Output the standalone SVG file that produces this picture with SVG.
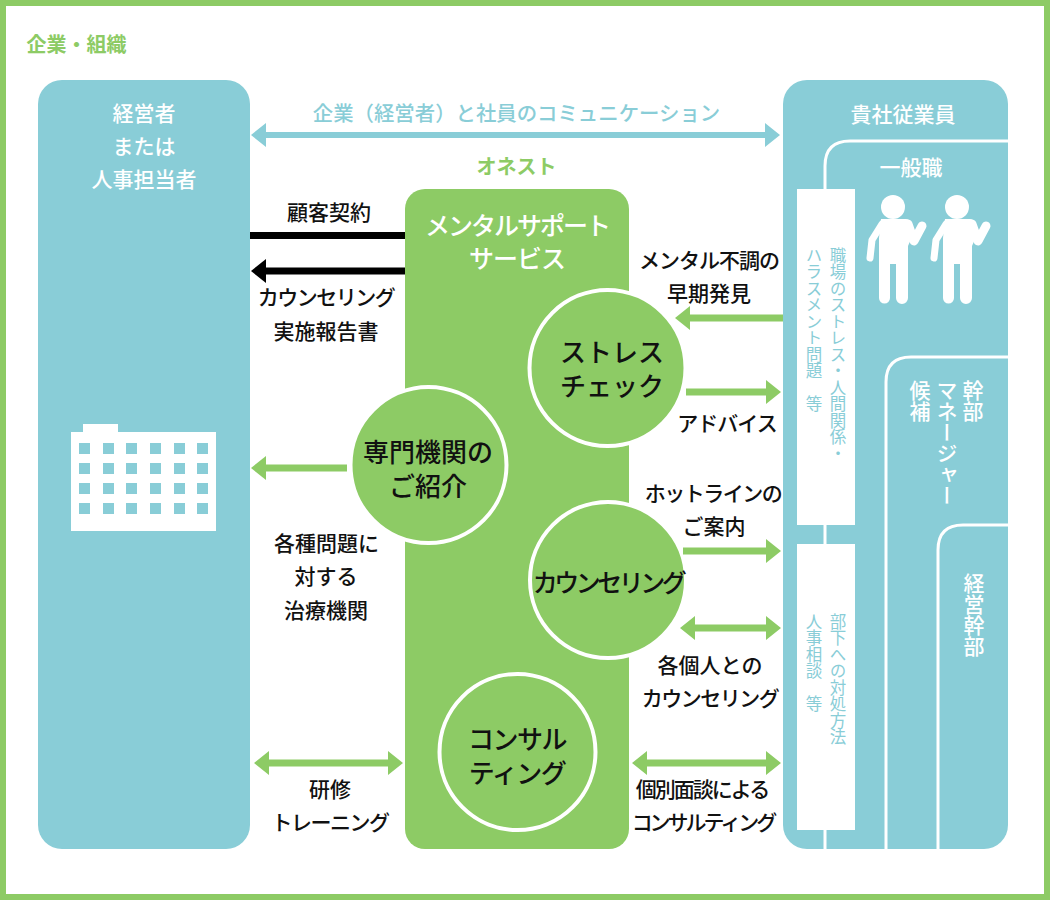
<svg xmlns="http://www.w3.org/2000/svg" xmlns:xlink="http://www.w3.org/1999/xlink" width="1050" height="900" viewBox="0 0 1050 900">
<style>
text{font-family:"Noto Sans CJK JP","Noto Sans",sans-serif;font-weight:500;text-anchor:middle}
.k{font-size:21px;fill:#111}
.w{font-size:21px;fill:#fff}
.c{font-size:26px;fill:#111;font-weight:500}
.sv{font-size:25px;fill:#fff}
.g{fill:#8dcb65}
.t{fill:#89cdd7}
.ga{stroke:#8dcb65;stroke-width:7;fill:none}
.v{writing-mode:vertical-rl;text-anchor:start;font-size:16.500px;fill:#89cdd7;font-weight:400}
.vw{writing-mode:vertical-rl;text-anchor:start;font-size:21px;fill:#fff;font-weight:500}
.wl{stroke:#fff;stroke-width:3;fill:none}
.circ{fill:#8dcb65;stroke:#fff;stroke-width:4}
.n1{letter-spacing:-1px}
.n15{letter-spacing:-1.500px}
.n2{letter-spacing:-2px}
.n3{letter-spacing:-3px}
</style>
<defs>
<g id="person" fill="#fff">
<circle cx="893" cy="207" r="12"/>
<path d="M881 219H906Q909 219 910 222L914 232L908 246V264V298A5.500 5.500 0 0 1 896 298V264H890V298A5.500 5.500 0 0 1 879 298V264L879 238Z"/>
<path d="M882 224L872 240L870 258" fill="none" stroke="#fff" stroke-width="7" stroke-linecap="round" stroke-linejoin="round"/>
<path d="M908 224L914 241L922 226" fill="none" stroke="#fff" stroke-width="9" stroke-linecap="round" stroke-linejoin="round"/>
</g>
</defs>
<rect x="3" y="3" width="1044" height="894" fill="#fff" stroke="#8dcb65" stroke-width="6"/>
<text x="76.500" y="52" font-size="20" class="g" style="font-weight:700">企業・組織</text>

<g id="client">
<rect x="38" y="80" width="212" height="769" rx="24" class="t"/>
<text x="144" y="121" class="w">経営者</text>
<text x="144" y="154" class="w">または</text>
<text x="144" y="187" class="w">人事担当者</text>
<g id="building">
<path d="M71 432H83V424H118V432H216V531H71Z" fill="#fff"/>
<g class="t">
<rect x="79" y="443" width="11" height="11"/><rect x="103" y="443" width="11" height="11"/><rect x="126" y="443" width="11" height="11"/><rect x="150" y="443" width="11" height="11"/><rect x="174" y="443" width="11" height="11"/><rect x="197" y="443" width="11" height="11"/>
<rect x="79" y="463" width="11" height="11"/><rect x="103" y="463" width="11" height="11"/><rect x="126" y="463" width="11" height="11"/><rect x="150" y="463" width="11" height="11"/><rect x="174" y="463" width="11" height="11"/><rect x="197" y="463" width="11" height="11"/>
<rect x="79" y="483" width="11" height="11"/><rect x="103" y="483" width="11" height="11"/><rect x="126" y="483" width="11" height="11"/><rect x="150" y="483" width="11" height="11"/><rect x="174" y="483" width="11" height="11"/><rect x="197" y="483" width="11" height="11"/>
<rect x="79" y="503" width="11" height="11"/><rect x="103" y="503" width="11" height="11"/><rect x="126" y="503" width="11" height="11"/><rect x="150" y="503" width="11" height="11"/><rect x="174" y="503" width="11" height="11"/><rect x="197" y="503" width="11" height="11"/>
</g>
</g>
</g>

<g id="employees">
<rect x="783" y="80" width="225" height="769" rx="24" class="t"/>
<text x="903" y="122" class="w">貴社従業員</text>
<path class="wl" d="M825 849V166Q825 141 850 141H1008"/>
<path class="wl" d="M886 849V382Q886 357 911 357H1008"/>
<path class="wl" d="M938 849V550Q938 525 963 525H1008"/>
<text x="911" y="175" class="w">一般職</text>
<use xlink:href="#person" href="#person"/>
<use xlink:href="#person" href="#person" x="64"/>
<rect x="797" y="189" width="58" height="336" fill="#fff"/>
<rect x="797" y="544" width="58" height="286" fill="#fff"/>
<text class="v" x="838" y="247">職場のストレス・人間関係・</text>
<text class="v" x="814" y="247">ハラスメント問題　等</text>
<text class="v" x="838" y="613">部下への対処方法</text>
<text class="v" x="814" y="613">人事相談　等</text>
<text class="vw" x="973" y="380">幹部</text>
<text class="vw" x="947" y="380">マネージャー</text>
<text class="vw" x="920" y="380">候補</text>
<text class="vw" x="974" y="573">経営幹部</text>
</g>

<g id="service">
<rect x="405" y="189" width="224" height="660" rx="20" class="g"/>
<text x="517" y="235" class="sv n2">メンタルサポート</text>
<text x="517" y="268" class="sv n1">サービス</text>
</g>
<g id="stress"><circle cx="607.500" cy="368" r="78" class="circ"/><text x="612" y="362" class="c">ストレス</text><text x="612" y="396" class="c">チェック</text></g>
<g id="referral"><circle cx="428.500" cy="465" r="78" class="circ"/><text x="428" y="462" class="c">専門機関の</text><text x="428" y="496" class="c">ご紹介</text></g>
<g id="counseling"><circle cx="608" cy="580" r="78" class="circ"/><text x="608" y="592" class="c" style="font-size:25px;letter-spacing:-3.500px">カウンセリング</text></g>
<g id="consulting"><circle cx="517.500" cy="752" r="78" class="circ"/><text x="517" y="749" class="c n15">コンサル</text><text x="517" y="783" class="c n15">ティング</text></g>

<g id="connectors">
<path d="M262 135H768" stroke="#89cdd7" stroke-width="6"/>
<path d="M251 135L266 123V147ZM780 135L765 123V147Z" class="t"/>
<rect x="250" y="232" width="155" height="7" fill="#000"/>
<path d="M262 271H405" stroke="#000" stroke-width="7"/>
<path d="M251 271L266 259V283Z" fill="#000"/>
<path class="ga" d="M688 318H783M686 392H768M262 468H347M683 551H768M692 628H769M644 763H769M266 763H391"/>
<g class="g">
<path d="M675 318L690 306V330Z"/>
<path d="M781 392L766 380V404Z"/>
<path d="M251 468L266 456V480Z"/>
<path d="M781 551L766 539V563Z"/>
<path d="M680 628L695 616V640ZM781 628L766 616V640Z"/>
<path d="M632 763L647 751V775ZM781 763L766 751V775Z"/>
<path d="M254 763L269 751V775ZM403 763L388 751V775Z"/>
</g>
</g>

<g id="labels">
<text x="516.500" y="121" font-size="20.400" class="t">企業（経営者）と社員のコミュニケーション</text>
<text x="516.500" y="174" font-size="20" class="g" style="font-weight:700">オネスト</text>
<text x="329" y="220" class="k">顧客契約</text>
<text x="326" y="305" class="k n15">カウンセリング</text>
<text x="326" y="339" class="k">実施報告書</text>
<text x="709" y="268" class="k n1">メンタル不調の</text>
<text x="709" y="301" class="k">早期発見</text>
<text x="727" y="431" class="k n1">アドバイス</text>
<text x="713" y="501" class="k n15">ホットラインの</text>
<text x="714" y="534" class="k">ご案内</text>
<text x="326.500" y="551" class="k">各種問題に</text>
<text x="326" y="584" class="k">対する</text>
<text x="326" y="618" class="k">治療機関</text>
<text x="710" y="673" class="k">各個人との</text>
<text x="710" y="706" class="k n15">カウンセリング</text>
<text x="330" y="797" class="k">研修</text>
<text x="330" y="830" class="k n15">トレーニング</text>
<text x="702" y="797" class="k n2">個別面談による</text>
<text x="703" y="830" class="k n3">コンサルティング</text>
</g>
</svg>
